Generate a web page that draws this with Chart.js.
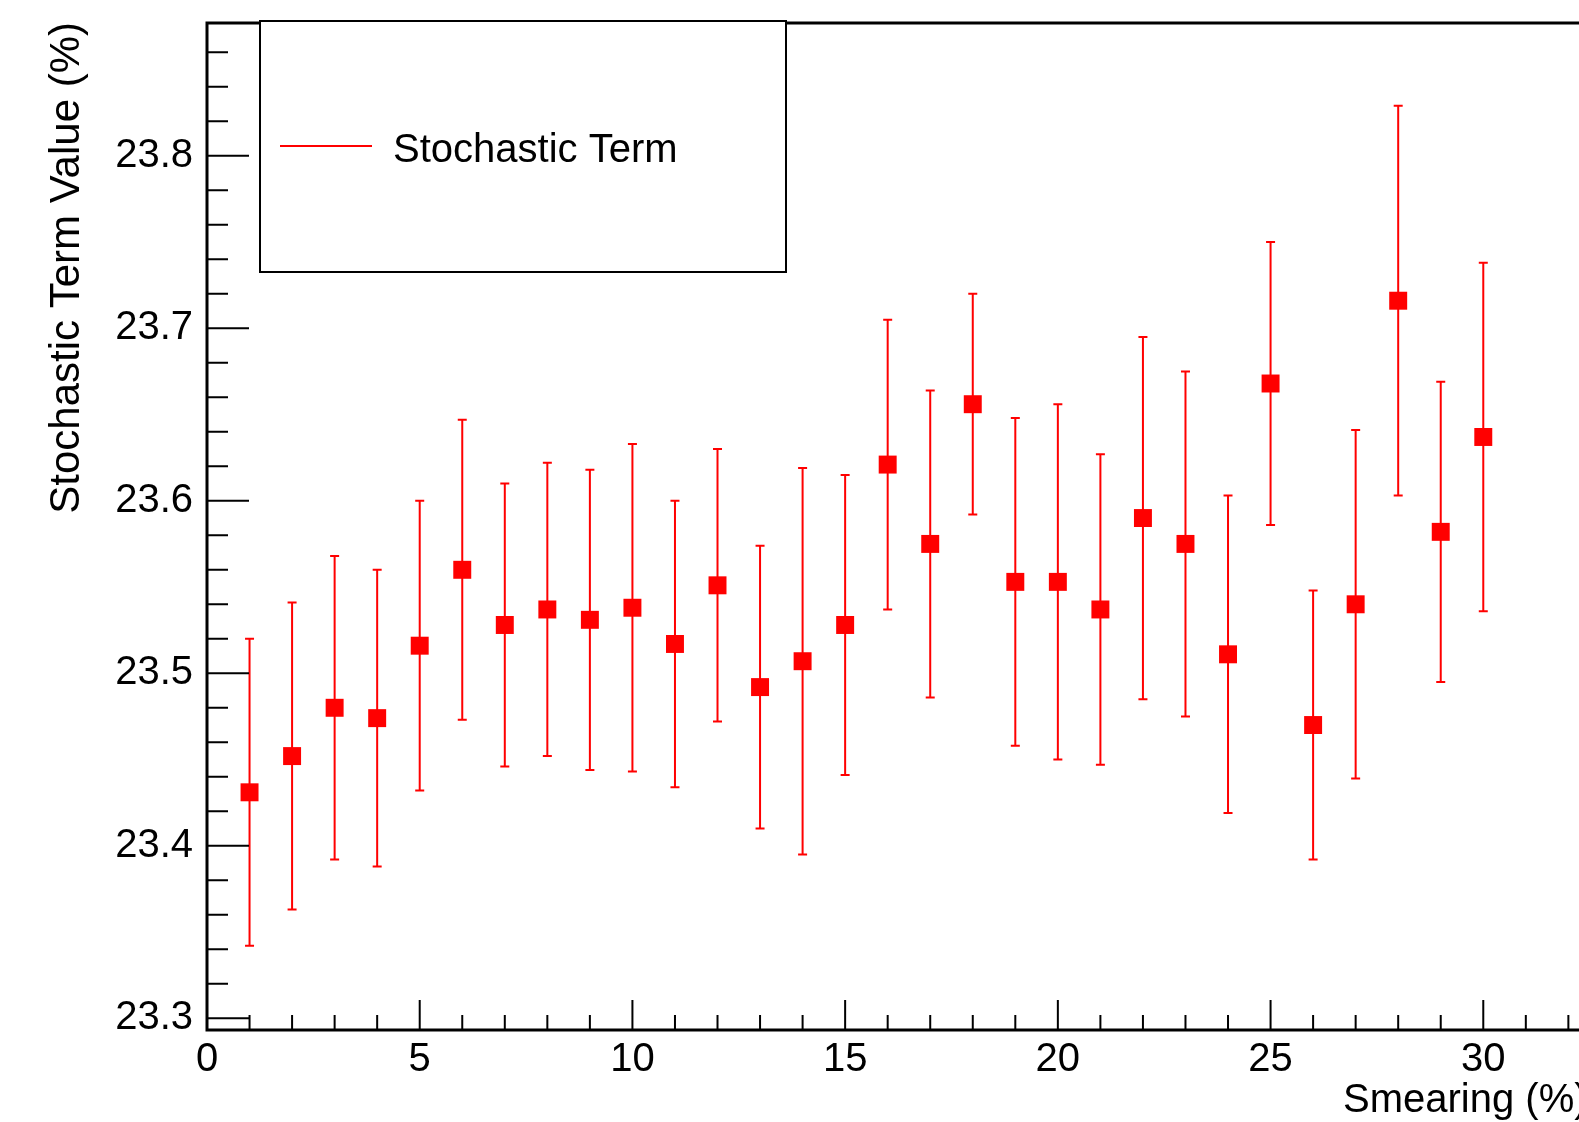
<!DOCTYPE html>
<html>
<head>
<meta charset="utf-8">
<title>Stochastic Term vs Smearing</title>
<script src="https://cdn.jsdelivr.net/npm/chart.js@4.4.0/dist/chart.umd.min.js"></script>
<style>
  html, body { margin: 0; padding: 0; background: #fff; }
  canvas { display: block; }
</style>
</head>
<body>
<canvas id="stochasticChart" width="1579" height="1122"></canvas>
<script>
// smearing points (%) and the fitted stochastic term with its error
const smearing = [1, 2, 3, 4, 5, 6, 7, 8, 9, 10, 11, 12, 13, 14, 15,
                  16, 17, 18, 19, 20, 21, 22, 23, 24, 25, 26, 27, 28, 29, 30];
const stochValues = [23.431, 23.452, 23.480, 23.474, 23.516, 23.560, 23.528, 23.537, 23.531, 23.538,
                     23.517, 23.551, 23.492, 23.507, 23.528, 23.621, 23.575, 23.656, 23.553, 23.553,
                     23.537, 23.590, 23.575, 23.511, 23.668, 23.470, 23.540, 23.716, 23.582, 23.637];
const stochErrors = [0.089, 0.089, 0.088, 0.086, 0.084, 0.087, 0.082, 0.085, 0.087, 0.095,
                     0.083, 0.079, 0.082, 0.112, 0.087, 0.084, 0.089, 0.064, 0.095, 0.103,
                     0.090, 0.105, 0.100, 0.092, 0.082, 0.078, 0.101, 0.113, 0.087, 0.101];

const xTickLabels = [0, 5, 10, 15, 20, 25, 30];
const yTickLabels = [23.3, 23.4, 23.5, 23.6, 23.7, 23.8];

const FONT = '"Liberation Sans", Arial, Helvetica, sans-serif';
const RED = '#ff0000';

// no extra room around the axes, the frame sits at fixed margins
function noScalePadding(s) {
  s.paddingTop = 0;
  s.paddingBottom = 0;
  s.paddingLeft = 0;
  s.paddingRight = 0;
}

// ROOT style frame: inward ticks, error bars, boxed legend, axis titles
const rootStyle = {
  id: 'rootStyle',
  beforeDatasetsDraw(chart) {
    const { ctx, scales: { x, y } } = chart;
    ctx.save();
    ctx.strokeStyle = RED;
    ctx.lineWidth = 2;
    smearing.forEach((s, i) => {
      const px = x.getPixelForValue(s);
      const top = y.getPixelForValue(stochValues[i] + stochErrors[i]);
      const bot = y.getPixelForValue(stochValues[i] - stochErrors[i]);
      ctx.beginPath();
      ctx.moveTo(px, top); ctx.lineTo(px, bot);
      ctx.moveTo(px - 4.5, top); ctx.lineTo(px + 4.5, top);
      ctx.moveTo(px - 4.5, bot); ctx.lineTo(px + 4.5, bot);
      ctx.stroke();
    });
    ctx.restore();
  },
  afterDatasetsDraw(chart) {
    const { ctx, chartArea: a, scales: { x, y } } = chart;
    ctx.save();
    ctx.strokeStyle = '#000';
    ctx.fillStyle = '#000';

    // frame
    ctx.lineWidth = 3;
    ctx.beginPath();
    ctx.moveTo(a.left, a.top); ctx.lineTo(a.right + 2, a.top);
    ctx.moveTo(a.left, a.top - 1.5); ctx.lineTo(a.left, a.bottom + 1.5);
    ctx.moveTo(a.left, a.bottom); ctx.lineTo(a.right + 2, a.bottom);
    ctx.stroke();

    // ticks
    ctx.lineWidth = 2;
    ctx.beginPath();
    for (let v = 0; v <= x.max; v += 1) {
      const px = x.getPixelForValue(v);
      const len = v % 5 === 0 ? 30 : 15;
      ctx.moveTo(px, a.bottom); ctx.lineTo(px, a.bottom - len);
    }
    for (let k = 0; ; k++) {
      const v = 23.3 + k * 0.02;
      if (v > y.max) break;
      const py = y.getPixelForValue(v);
      const len = k % 5 === 0 ? 42 : 21;
      ctx.moveTo(a.left, py); ctx.lineTo(a.left + len, py);
    }
    ctx.stroke();

    // legend
    const ds = chart.data.datasets[0];
    ctx.fillStyle = '#fff';
    ctx.fillRect(260, 21, 526, 251);
    ctx.lineWidth = 2;
    ctx.strokeRect(260, 21, 526, 251);
    ctx.strokeStyle = ds.backgroundColor;
    ctx.beginPath();
    ctx.moveTo(280, 146); ctx.lineTo(372, 146);
    ctx.stroke();
    ctx.fillStyle = '#000';
    ctx.font = '40px ' + FONT;
    ctx.textAlign = 'left';
    ctx.textBaseline = 'alphabetic';
    ctx.fillText(ds.label, 393, 162);

    // axis titles
    ctx.font = '40px ' + FONT;
    ctx.fillText('Smearing (%)', 1343, 1112);
    ctx.save();
    ctx.translate(79, 22);
    ctx.rotate(-Math.PI / 2);
    ctx.textAlign = 'right';
    ctx.font = '42px ' + FONT;
    ctx.fillText('Stochastic Term Value (%)', 0, 0);
    ctx.restore();

    ctx.restore();
  }
};

new Chart(document.getElementById('stochasticChart'), {
  type: 'scatter',
  data: {
    datasets: [{
      label: 'Stochastic Term',
      data: smearing.map((s, i) => ({ x: s, y: stochValues[i] })),
      backgroundColor: RED,
      borderColor: RED,
      borderWidth: 0,
      pointStyle: 'rect',
      pointRadius: 12.7,
      pointHoverRadius: 12.7
    }]
  },
  options: {
    responsive: false,
    animation: false,
    events: [],
    layout: { autoPadding: false, padding: { top: 23, right: 0, left: 0, bottom: 0 } },
    plugins: {
      legend: { display: false },
      tooltip: { enabled: false }
    },
    scales: {
      x: {
        type: 'linear',
        min: 0,
        max: 32.25,
        grid: { display: false },
        border: { display: false },
        afterBuildTicks: s => { s.ticks = xTickLabels.map(v => ({ value: v })); },
        afterFit: s => { s.height = 92; noScalePadding(s); },
        ticks: {
          color: '#000',
          padding: -2,
          maxRotation: 0,
          font: { family: FONT, size: 40 },
          callback: v => String(v)
        }
      },
      y: {
        type: 'linear',
        min: 23.2932,
        max: 23.877,
        grid: { display: false },
        border: { display: false },
        afterBuildTicks: s => { s.ticks = yTickLabels.map(v => ({ value: v })); },
        afterFit: s => { s.width = 207; noScalePadding(s); },
        ticks: {
          color: '#000',
          padding: 6,
          font: { family: FONT, size: 40 },
          callback: v => v.toFixed(1)
        }
      }
    }
  },
  plugins: [rootStyle]
});
</script>
</body>
</html>
